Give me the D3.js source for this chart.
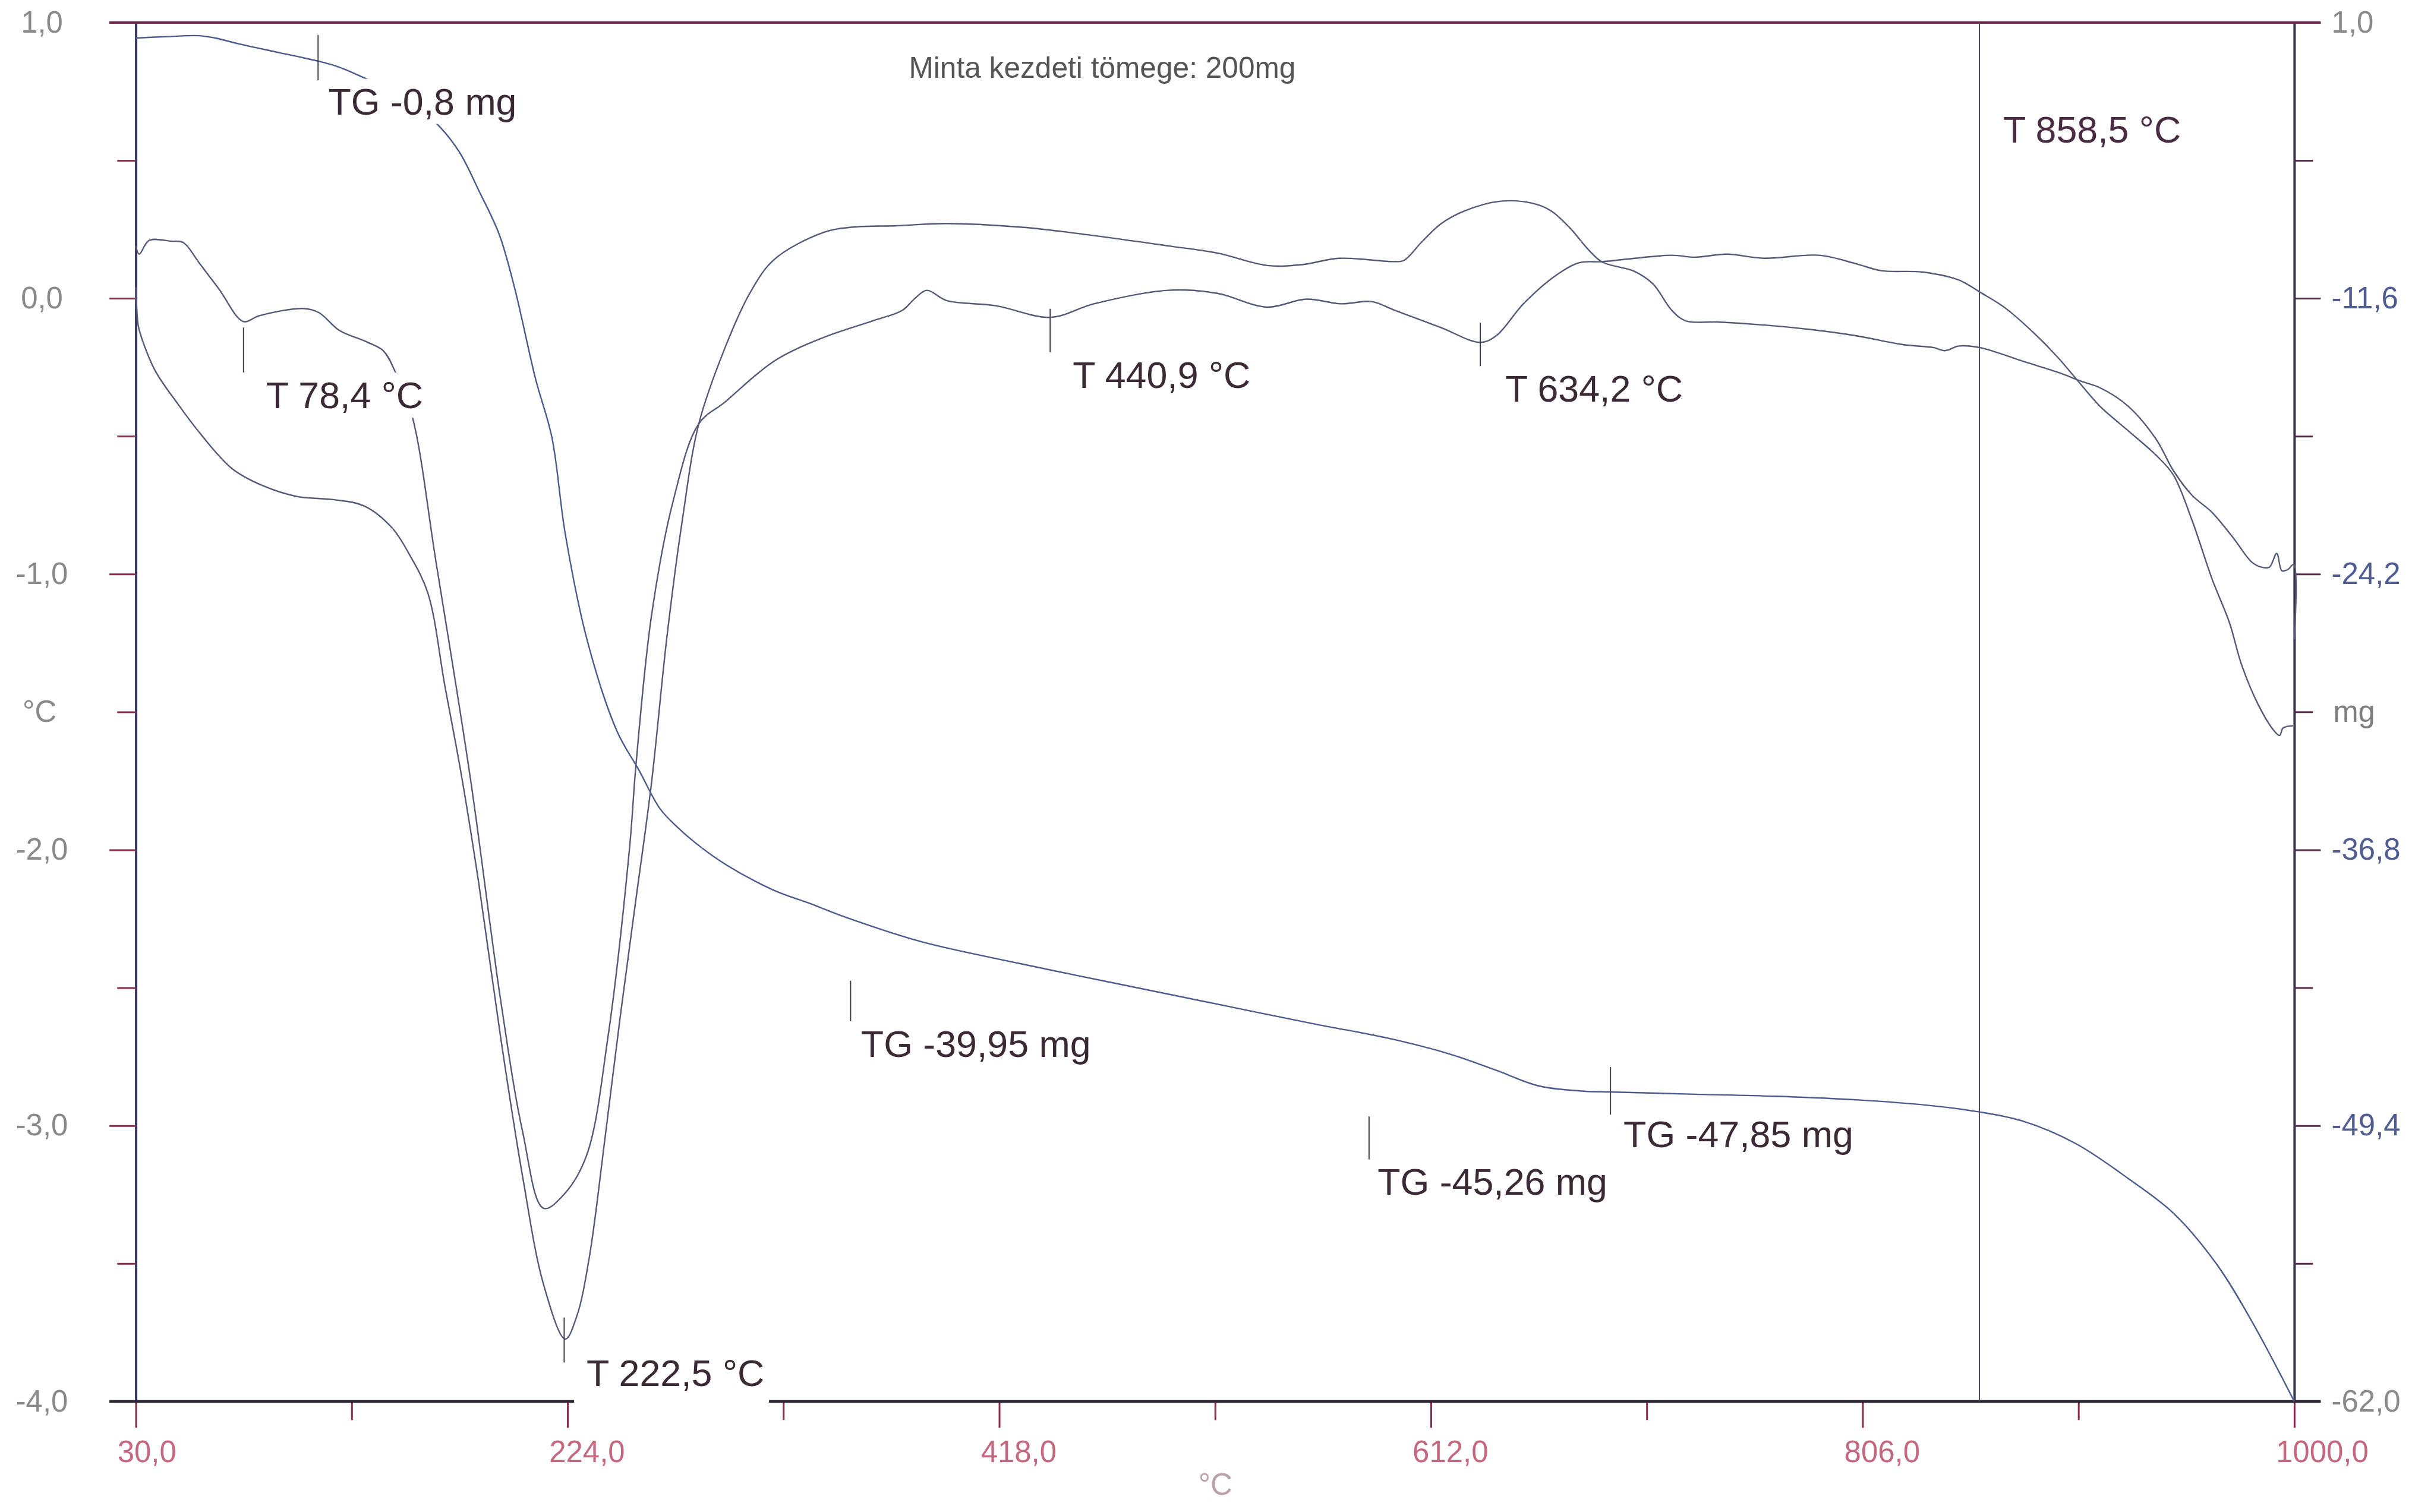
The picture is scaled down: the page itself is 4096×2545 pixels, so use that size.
<!DOCTYPE html>
<html>
<head>
<meta charset="utf-8">
<script src="https://cdn.jsdelivr.net/npm/d3@7"></script>
<style>
  html, body { margin: 0; padding: 0; background: #fff; }
  figure { margin: 0; }
  svg { display: block; }
</style>
</head>
<body>
<figure id="thermo-chart"></figure>
<script>
// DTA curve with the T 78,4 / 440,9 / 634,2 °C marks (left axis, °C)
const curveATemp = [30, 31.5, 36.0, 45.9, 51.3, 58.5, 67.5, 78.3, 85.5, 105.3, 112.3, 121.4, 134.0, 141.2, 146.5, 154.2,
  164.9, 180.3, 194.0, 203.8, 213.3, 223.0, 232.7, 242.1, 251.9, 254.7, 261.7, 271.5, 283.0, 294.8, 316.8, 339.1,
  361.1, 374.4, 380.3, 385.5, 394.3, 416.5, 441.0, 460.6, 493.9, 516.0, 538.3, 556.0, 571.5, 585.3, 595.6, 616.5,
  634.1, 641.3, 653.7, 668.2, 678.7, 689.1, 720.2, 730.6, 745.1, 761.8, 786.5, 803.2, 814.4, 833.2, 849.3, 858.8,
  869.9, 882.6, 893.6, 903.0, 912.6, 925.3, 937.9, 945.6, 954.0, 963.0, 970.8, 976.4, 983.7, 990.7, 993.4, 995.0, 999.6];
const curveAValue = [0.19, 0.16, 0.21, 0.207, 0.202, 0.128, 0.032, -0.084, -0.063, -0.037, -0.052, -0.116, -0.159, -0.19, -0.265, -0.428,
  -0.956, -1.738, -2.548, -3.021, -3.30, -3.244, -3.105, -2.683, -1.991, -1.698, -1.153, -0.734, -0.455, -0.376, -0.228, -0.142,
  -0.082, -0.044, 0.001, 0.029, -0.008, -0.027, -0.069, -0.020, 0.029, 0.018, -0.032, -0.003, -0.020, -0.012, -0.043, -0.106,
  -0.160, -0.136, -0.019, 0.083, 0.129, 0.133, 0.156, 0.149, 0.160, 0.145, 0.156, 0.125, 0.100, 0.095, 0.066, 0.022,
  -0.034, -0.123, -0.213, -0.302, -0.391, -0.480, -0.569, -0.640, -0.804, -1.017, -1.175, -1.331, -1.472, -1.566, -1.585, -1.558, -1.550];

// curve with the deep minimum at T 222,5 °C (left axis, °C)
const curveBTemp = [30, 30.7, 31.4, 38.4, 48.8, 59.3, 73.3, 87.2, 102.6, 118.6, 132.6, 145.1, 152.8, 161.2, 168.9, 176.5,
  184.2, 194.0, 203.8, 213.3, 223.0, 228.2, 233.8, 240.7, 247.7, 254.7, 261.7, 268.7, 275.6, 283.0, 294.8, 305.9,
  316.8, 339.1, 352.3, 371.9, 394.3, 427.5, 449.4, 493.9, 516.0, 538.3, 554.1, 570.8, 595.6, 599.8, 608.2, 616.5,
  626.9, 643.4, 657.9, 666.2, 674.6, 682.8, 689.1, 703.4, 711.8, 720.2, 726.5, 741.1, 761.8, 782.3, 803.2, 824.1,
  838.0, 842.9, 849.3, 858.8, 877.9, 893.6, 904.7, 912.6, 925.3, 937.9, 945.6, 954.0, 963.0, 972.8, 980.8, 985.3,
  988.8, 992.1, 994.4, 997.0, 999.8, 1000];
const curveBValue = [0.04, -0.072, -0.111, -0.258, -0.382, -0.494, -0.618, -0.680, -0.719, -0.730, -0.753, -0.832, -0.927, -1.068, -1.406, -1.738,
  -2.126, -2.683, -3.184, -3.578, -3.774, -3.69, -3.477, -3.055, -2.604, -2.182, -1.760, -1.226, -0.804, -0.455, -0.179, 0.018,
  0.140, 0.239, 0.258, 0.263, 0.271, 0.258, 0.239, 0.190, 0.164, 0.119, 0.122, 0.145, 0.133, 0.137, 0.207, 0.270,
  0.316, 0.352, 0.344, 0.316, 0.254, 0.176, 0.131, 0.098, 0.052, -0.043, -0.082, -0.086, -0.097, -0.113, -0.136, -0.168,
  -0.179, -0.190, -0.173, -0.179, -0.228, -0.268, -0.302, -0.324, -0.391, -0.511, -0.624, -0.714, -0.776, -0.871, -0.956, -0.975,
  -0.975, -0.925, -0.988, -0.984, -0.965, -1.237];

// TG mass change (right axis, mg)
const tgTemp = [30, 44.2, 58.5, 65.7, 76.4, 94.4, 112.3, 121.4, 133.1, 148.6, 165.4, 175.4, 184.2, 193.3, 200.3, 209.6,
  217.0, 223.0, 232.7, 246.2, 256.0, 265.5, 272.7, 281.1, 294.8, 316.8, 332.9, 350.1, 383.1, 427.5, 471.7, 516.0,
  560.4, 593.0, 620.8, 641.3, 660.7, 680.0, 692.6, 728.5, 767.2, 806.0, 835.1, 857.6, 877.9, 901.6, 925.3, 945.9,
  964.9, 980.7, 1000];
const tgMass = [0.29, 0.355, 0.397, 0.29, 0.022, -0.376, -0.773, -1.042, -1.553, -2.297, -3.644, -4.921, -6.693, -8.679, -11.16, -15.27,
  -17.97, -22.37, -27.17, -31.37, -33.14, -34.91, -35.70, -36.45, -37.45, -38.65, -39.25, -39.92, -41.0, -42.00, -42.93, -43.85,
  -44.77, -45.41, -46.14, -46.87, -47.59, -47.82, -47.86, -47.96, -48.06, -48.24, -48.47, -48.76, -49.19, -50.21, -51.81, -53.42,
  -55.7, -58.3, -62.0];

// axis ticks
const xTicks = [30, 224, 418, 612, 806, 1000];
const xMinor = [127, 321, 515, 709, 903];
const xMinorLabels = ['', '', '°C', '', ''];
const cTicks = [1, 0, -1, -2, -3, -4];
const cMinor = [0.5, -0.5, -1.5, -2.5, -3.5];
const cMinorLabels = ['', '', '°C', '', ''];
const mgTicks = [1, -11.6, -24.2, -36.8, -49.4, -62];
const mgMinor = [-5.3, -17.9, -30.5, -43.1, -55.7];
const mgMinorLabels = ['', '', 'mg', '', ''];

// evaluation marks
const markerLabels = ['TG -0,8 mg', 'T 78,4 °C', 'T 222,5 °C', 'TG -39,95 mg', 'T 440,9 °C', 'T 634,2 °C', 'TG -45,26 mg', 'TG -47,85 mg'];
const markerTemp = [111.9, 78.4, 222.5, 351.2, 440.9, 634.2, 584.2, 692.7];
const markerAxis = ['mg', 'C', 'C', 'mg', 'C', 'C', 'mg', 'mg'];
const markerTop = [0.43, -0.106, -3.696, -42.78, -0.038, -0.089, -48.98, -46.72];
const markerBottom = [-1.64, -0.269, -3.859, -44.63, -0.196, -0.246, -50.94, -48.90];

const cursorTemp = 858.5;
const cursorLabel = 'T 858,5 °C';
const noteText = 'Minta kezdeti tömege: 200mg';

// ---- layout ----
const W = 4096, H = 2545;
const k = W / 1568;            // picture units -> window pixels
const plotL = 87.5 * k, plotR = 1478 * k, plotT = 14.5 * k, plotB = 903 * k;
const majorLen = 17 * k, minorLen = 12 * k;
const font = '"Liberation Sans", Arial, Helvetica, sans-serif';
const tickFont = 19.5 * k, noteFont = 24 * k;

const labelDx = [6.6, 14.5, 14.4, 6.7, 14.5, 16, 5.5, 8.4];
const labelDy = [22, 23, 15, 23, 23, 23, 23, 21];

const fmt = d3.formatLocale({ decimal: ',', thousands: '.', grouping: [3], currency: ['', ''], minus: '-' }).format('.1f');

const svg = d3.select('figure#thermo-chart')
  .append('svg')
  .attr('width', W)
  .attr('height', H)
  .style('font-family', font)
  .style('background', '#fff');

const x = d3.scaleLinear().domain([30, 1000]).range([plotL, plotR]);
const yC = d3.scaleLinear().domain([-4, 1]).range([plotB, plotT]);
const yMg = d3.scaleLinear().domain([-62, 1]).range([plotB, plotT]);

const tickColor = '#8c2a4a';

// left axis
const gLeft = svg.append('g').attr('transform', 'translate(' + plotL + ',0)');
gLeft.append('g')
  .call(d3.axisLeft(yC).tickValues(cTicks).tickSize(majorLen).tickSizeOuter(0).tickFormat(fmt))
  .call(g => g.select('.domain').attr('stroke', '#37395c').attr('stroke-width', 4))
  .call(g => g.selectAll('.tick line').attr('stroke', tickColor).attr('stroke-width', 3))
  .call(g => g.selectAll('.tick text')
    .attr('x', -60.5 * k).attr('text-anchor', 'middle')
    .attr('fill', '#8a8a8a').style('font-size', tickFont + 'px').style('font-family', font));
gLeft.append('g')
  .call(d3.axisLeft(yC).tickValues(cMinor).tickSize(minorLen).tickSizeOuter(0).tickFormat((d, i) => cMinorLabels[i]))
  .call(g => g.select('.domain').remove())
  .call(g => g.selectAll('.tick line').attr('stroke', tickColor).attr('stroke-width', 3))
  .call(g => g.selectAll('.tick text')
    .attr('x', -62 * k).attr('text-anchor', 'middle')
    .attr('fill', '#8a8a8a').style('font-size', tickFont + 'px').style('font-family', font));

// right axis
const gRight = svg.append('g').attr('transform', 'translate(' + plotR + ',0)');
gRight.append('g')
  .call(d3.axisRight(yMg).tickValues(mgTicks).tickSize(majorLen).tickSizeOuter(0).tickFormat(fmt))
  .call(g => g.select('.domain').attr('stroke', '#393350').attr('stroke-width', 4))
  .call(g => g.selectAll('.tick line').attr('stroke', '#5a2a4c').attr('stroke-width', 3))
  .call(g => g.selectAll('.tick text')
    .attr('x', 24 * k).attr('text-anchor', 'start')
    .attr('fill', (d, i) => (i === 0 || i === mgTicks.length - 1) ? '#8a8a8a' : '#4f5c92')
    .style('font-size', tickFont + 'px').style('font-family', font));
gRight.append('g')
  .call(d3.axisRight(yMg).tickValues(mgMinor).tickSize(minorLen).tickSizeOuter(0).tickFormat((d, i) => mgMinorLabels[i]))
  .call(g => g.select('.domain').remove())
  .call(g => g.selectAll('.tick line').attr('stroke', '#5a2a4c').attr('stroke-width', 3))
  .call(g => g.selectAll('.tick text')
    .attr('x', 25 * k).attr('text-anchor', 'start')
    .attr('fill', '#7f7f7f').style('font-size', tickFont + 'px').style('font-family', font));

// top border
svg.append('line')
  .attr('x1', plotL - majorLen).attr('x2', plotR + majorLen)
  .attr('y1', yC(1)).attr('y2', yC(1))
  .attr('stroke', '#6e2446').attr('stroke-width', 4);

// bottom axis
const gBottom = svg.append('g').attr('transform', 'translate(0,' + plotB + ')');
gBottom.append('g')
  .call(d3.axisBottom(x).tickValues(xTicks).tickSize(majorLen).tickSizeOuter(0).tickFormat(fmt))
  .call(g => g.select('.domain').remove())
  .call(g => g.selectAll('.tick line').attr('stroke', tickColor).attr('stroke-width', 3))
  .call(g => g.selectAll('.tick text')
    .attr('x', -12 * k).attr('y', 39 * k).attr('dy', 0).attr('text-anchor', 'start')
    .attr('fill', '#c4687f').style('font-size', tickFont + 'px').style('font-family', font));
gBottom.append('g')
  .call(d3.axisBottom(x).tickValues(xMinor).tickSize(minorLen).tickSizeOuter(0).tickFormat((d, i) => xMinorLabels[i]))
  .call(g => g.select('.domain').remove())
  .call(g => g.selectAll('.tick line').attr('stroke', tickColor).attr('stroke-width', 3))
  .call(g => g.selectAll('.tick text')
    .attr('x', 0).attr('y', 60 * k).attr('dy', 0).attr('text-anchor', 'middle')
    .attr('fill', '#b9a0aa').style('font-size', tickFont + 'px').style('font-family', font));
gBottom.append('line')
  .attr('x1', plotL - majorLen).attr('x2', plotR + majorLen)
  .attr('y1', 0).attr('y2', 0)
  .attr('stroke', '#2c2436').attr('stroke-width', 4.5);

// cursor line at T 858,5 °C
svg.append('line')
  .attr('x1', x(cursorTemp)).attr('x2', x(cursorTemp))
  .attr('y1', plotT).attr('y2', plotB)
  .attr('stroke', '#4a4a5e').attr('stroke-width', 2);

// curves
const smooth = d3.curveCatmullRom.alpha(0.5);
const lineC = d3.line().curve(smooth).x(d => x(d[0])).y(d => yC(d[1]));
const lineMg = d3.line().curve(smooth).x(d => x(d[0])).y(d => yMg(d[1]));

const curves = [
  { pts: d3.zip(curveATemp, curveAValue), gen: lineC, color: '#545a76' },
  { pts: d3.zip(curveBTemp, curveBValue), gen: lineC, color: '#545a76' },
  { pts: d3.zip(tgTemp, tgMass), gen: lineMg, color: '#4c5a8c' }
];

svg.append('g').selectAll('path')
  .data(curves)
  .join('path')
  .attr('d', d => d.gen(d.pts))
  .attr('fill', 'none')
  .attr('stroke', d => d.color)
  .attr('stroke-width', 2.4)
  .attr('stroke-linejoin', 'round');

// labels with white boxes (they hide what runs under them, as in the print)
const labelG = svg.append('g');
const pad = 3;
markerLabels.forEach((txt, i) => {
  const ys = markerAxis[i] === 'mg' ? yMg : yC;
  const mx = x(markerTemp[i]);
  const yb = ys(markerBottom[i]);
  const g = labelG.append('g');
  const rect = g.append('rect').attr('fill', '#fff');
  const t = g.append('text')
    .attr('x', mx + labelDx[i] * k)
    .attr('y', yb + labelDy[i] * k)
    .attr('fill', '#3b2a36')
    .style('font-size', noteFont + 'px')
    .text(txt);
  const bb = t.node().getBBox();
  let rx = bb.x - pad, ry = bb.y - pad, rw = bb.width + 2 * pad, rh = bb.height + 2 * pad;
  if (ry + rh > plotB - 6 * k) {
    // this one sits on the temperature axis and breaks it
    rx = bb.x - 8 * k;
    rw = bb.width + 11 * k;
    rh = plotB + 3 * k - ry;
  }
  rect.attr('x', rx).attr('y', ry).attr('width', rw).attr('height', rh);
});

// marker ticks
svg.append('g').selectAll('line')
  .data(markerTemp)
  .join('line')
  .attr('x1', d => x(d)).attr('x2', d => x(d))
  .attr('y1', (d, i) => (markerAxis[i] === 'mg' ? yMg : yC)(markerTop[i]))
  .attr('y2', (d, i) => (markerAxis[i] === 'mg' ? yMg : yC)(markerBottom[i]))
  .attr('stroke', '#3d3d55')
  .attr('stroke-width', 2);

// cursor label and sample note
svg.append('text')
  .attr('x', x(cursorTemp) + 15.3 * k)
  .attr('y', 92 * k)
  .attr('fill', '#4a2c42')
  .style('font-size', noteFont + 'px')
  .text(cursorLabel);

svg.append('text')
  .attr('x', 585.5 * k)
  .attr('y', 50 * k)
  .attr('fill', '#555')
  .style('font-size', (19 * k) + 'px')
  .text(noteText);
</script>
</body>
</html>
